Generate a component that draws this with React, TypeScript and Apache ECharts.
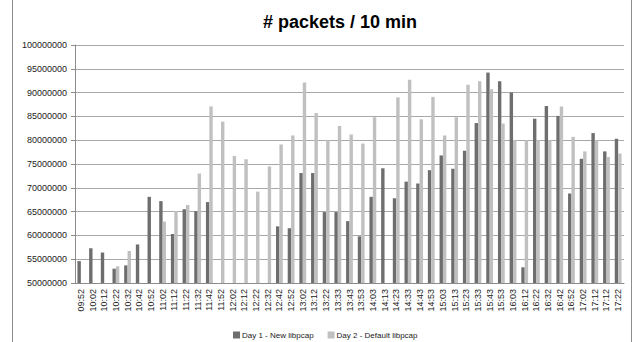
import React, { useEffect, useRef } from "react";
import * as echarts from "echarts";

const categories = [
  "09:52", "10:02", "10:12", "10:22", "10:32", "10:42", "10:52", "11:02", "11:12", "11:22",
  "11:32", "11:42", "11:52", "12:02", "12:12", "12:22", "12:32", "12:42", "12:52", "13:02",
  "13:12", "13:22", "13:33", "13:43", "13:53", "14:03", "14:13", "14:23", "14:33", "14:43",
  "14:53", "15:03", "15:13", "15:23", "15:33", "15:43", "15:53", "16:03", "16:12", "16:22",
  "16:32", "16:42", "16:52", "17:02", "17:12", "17:12", "17:22",
];

const day1 = [
  54600000, 57300000, 56400000, 53000000, 53700000, 58100000, 68100000, 67200000, 60300000, 65500000,
  65100000, 67000000, null, null, null, null, null, 61900000, 61500000, 73100000,
  73100000, 64900000, 64900000, 63000000, 59800000, 68100000, 74100000, 67800000, 71300000, 70900000,
  73700000, 76800000, 74000000, 77800000, 83600000, 94200000, 92400000, 90000000, 53300000, 84500000,
  87200000, 85100000, 68800000, 76100000, 81500000, 77650000, 80300000,
];

const day2 = [
  null, null, null, 53500000, 56700000, null, null, 62900000, 65100000, 66400000,
  73000000, 87100000, 83900000, 76700000, 76000000, 69200000, 74500000, 79100000, 81000000, 92100000,
  85700000, 80000000, 83000000, 81200000, 79300000, 84800000, null, 89000000, 92700000, 84400000,
  89100000, 81000000, 84800000, 91650000, 92400000, 90700000, 83500000, 80000000, 80000000, 80000000,
  80000000, 87100000, 80700000, 77650000, 80000000, 76450000, 77200000,
];

const seriesNames = ["Day 1 - New libpcap", "Day 2 - Default libpcap"];
const titleText = "# packets / 10 min";

export default function App() {
  const ref = useRef<HTMLDivElement>(null);
  useEffect(() => {
    if (!ref.current) return;
    const chart = echarts.init(ref.current, null, { renderer: "svg" });
    const font = "Liberation Sans";
    chart.setOption({
      animation: false,
      backgroundColor: "#ffffff",
      textStyle: { fontFamily: font },
      graphic: [
        { type: "line", shape: { x1: 12.5, y1: 0, x2: 12.5, y2: 342 }, style: { stroke: "#8c8c8c", lineWidth: 1 } },
        { type: "line", shape: { x1: 631.5, y1: 0, x2: 631.5, y2: 342 }, style: { stroke: "#8c8c8c", lineWidth: 1 } },
        {
          type: "text",
          x: 340,
          y: 22,
          style: {
            text: titleText,
            textAlign: "center",
            textVerticalAlign: "middle",
            font: `bold 18px "${font}"`,
            fill: "#000",
          },
        },
      ],
      legend: {
        data: seriesNames,
        left: 228,
        top: 326,
        itemWidth: 7,
        itemHeight: 7,
        itemGap: 14,
        icon: "rect",
        textStyle: { fontSize: 8, color: "#222", padding: [0, 0, 0, -3] },
      },
      grid: { left: 75, right: 11, top: 45, bottom: 59 },
      xAxis: {
        type: "category",
        data: categories,
        axisLine: { lineStyle: { color: "#8c8c8c" } },
        axisTick: { length: 4, lineStyle: { color: "#8c8c8c" } },
        axisLabel: { rotate: 90, interval: 0, fontSize: 9, color: "#222", margin: 6 },
      },
      yAxis: {
        type: "value",
        min: 50000000,
        max: 100000000,
        interval: 5000000,
        axisLine: { show: true, lineStyle: { color: "#8c8c8c" } },
        axisTick: { show: true, length: 4, lineStyle: { color: "#8c8c8c" } },
        axisLabel: { fontSize: 9, color: "#222", margin: 8, formatter: (v: number) => String(v) },
        splitLine: { lineStyle: { color: "#a8a8a8", width: 1 } },
      },
      series: [
        {
          name: seriesNames[0],
          type: "bar",
          data: day1,
          barWidth: 3.4,
          barGap: "0%",
          itemStyle: { color: "#6e6e6e" },
        },
        {
          name: seriesNames[1],
          type: "bar",
          data: day2,
          barWidth: 3.4,
          barGap: "0%",
          itemStyle: { color: "#c0c0c0" },
        },
      ],
    });
    return () => chart.dispose();
  }, []);
  return <div ref={ref} style={{ width: 635, height: 342, position: "absolute", left: 0, top: 0 }} />;
}
